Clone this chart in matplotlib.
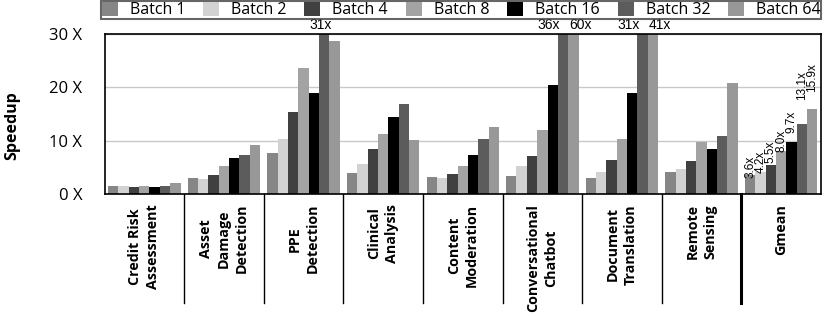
import numpy as np
import matplotlib
matplotlib.use("Agg")
import matplotlib.pyplot as plt
from matplotlib.lines import Line2D
from matplotlib.patches import Patch

plt.rcParams['font.family'] = ['Open Sans', 'DejaVu Sans']

groups = ['Credit Risk\nAssessment', 'Asset\nDamage\nDetection', 'PPE\nDetection',
          'Clinical\nAnalysis', 'Content\nModeration', 'Conversational\nChatbot',
          'Document\nTranslation', 'Remote\nSensing', 'Gmean']
batches = ['Batch 1', 'Batch 2', 'Batch 4', 'Batch 8', 'Batch 16', 'Batch 32', 'Batch 64']
colors = ['#868686', '#d2d2d2', '#404040', '#a3a3a3', '#000000', '#5c5c5c', '#989898']

# speedup per group, one column per batch size
speedup = np.array([
    [1.6, 1.6, 1.4, 1.6, 1.4, 1.5, 2.2],
    [3.1, 2.8, 3.6, 5.2, 6.8, 7.3, 9.3],
    [7.8, 10.3, 15.3, 23.6, 18.9, 31, 28.7],
    [4.0, 5.6, 8.4, 11.3, 14.5, 16.8, 10.1],
    [3.2, 3.0, 3.7, 5.2, 7.3, 10.3, 12.6],
    [3.5, 5.3, 7.2, 12.1, 20.5, 36, 60],
    [3.0, 4.2, 6.4, 10.4, 18.9, 31, 41],
    [4.2, 4.7, 6.2, 9.8, 8.4, 10.9, 20.7],
    [3.6, 4.2, 5.5, 8.0, 9.7, 13.1, 15.9],
])
gmean_labels = ['3.6x', '4.2x', '5.5x', '8.0x', '9.7x', '13.1x', '15.9x']
yticks = [0, 10, 20, 30]
ymax = 30

fig = plt.figure(figsize=(8.3, 3.16), dpi=100)
ax = fig.add_axes([104.5 / 830, 1 - 194.3 / 316, 716.5 / 830, 160.6 / 316])

n = len(batches)
w = 0.13
x = np.arange(len(groups))
# vertical nudge of the gmean labels (data units)
lift = [-0.55, -0.2, 0.35, -0.1, 1.75, 4.5, 3.2]
for j in range(n):
    xs = x + (j - (n - 1) / 2) * w
    ax.bar(xs, speedup[:, j], width=w, color=colors[j], edgecolor='none', zorder=2)
    ax.text(xs[-1], speedup[-1, j] + lift[j], gmean_labels[j], rotation=90, ha='center',
            va='bottom', fontsize=8.5, family='Liberation Sans', zorder=3)

# values that go past the top of the axis
for i in range(len(groups)):
    over = [j for j in range(n) if speedup[i, j] > ymax]
    shifts = [-4] if len(over) == 1 else [-14, 7]
    for j, dx in zip(over, shifts):
        xc = i + (j - (n - 1) / 2) * w
        ax.annotate(f'{int(speedup[i, j])}x', (xc, ymax), xytext=(dx, 2),
                    textcoords='offset pixels', ha='center', va='bottom',
                    fontsize=10, family='Liberation Sans', annotation_clip=False)

ax.set_xlim(-0.5, len(groups) - 0.5)
ax.set_ylim(0, ymax)
ax.set_yticks(yticks)
ax.set_yticklabels([f'{t} X' for t in yticks], fontsize=12)
ax.tick_params(axis='y', length=0, pad=16)
ax.set_xticks([])
ax.yaxis.grid(True, color='#c8c8c8', lw=1, zorder=0)
ax.set_ylabel('Speedup', fontsize=11.5, fontweight='bold')
ax.yaxis.set_label_coords(-0.117, 0.43)
for s in ax.spines.values():
    s.set_color('black')
    s.set_linewidth(1.2)

# group separators, extended down into the label area
for k in range(1, len(groups)):
    lw = 2.2 if k == len(groups) - 1 else 1.0
    ax.add_line(Line2D([k - 0.5, k - 0.5], [0, -0.677], transform=ax.get_xaxis_transform(),
                       color='black', lw=lw, clip_on=False))

for i, g in enumerate(groups):
    ax.text(i, -0.06, g, transform=ax.get_xaxis_transform(), rotation=90, ha='center',
            va='top', multialignment='center', fontsize=10.3, fontweight='bold',
            linespacing=1.35)

handles = [Patch(facecolor=c, edgecolor='none') for c in colors]
leg = fig.legend(handles, batches, ncol=7, loc='upper left',
                 bbox_to_anchor=(101 / 830, 1 - 1 / 316),
                 fontsize=11.5, frameon=True, fancybox=False, handlelength=1.0,
                 handleheight=1.0, columnspacing=1.12, handletextpad=0.75,
                 borderpad=0.05, borderaxespad=0.0)
leg.get_frame().set_edgecolor('#404040')
leg.get_frame().set_linewidth(1.5)

fig.savefig('out.png', dpi=100)
